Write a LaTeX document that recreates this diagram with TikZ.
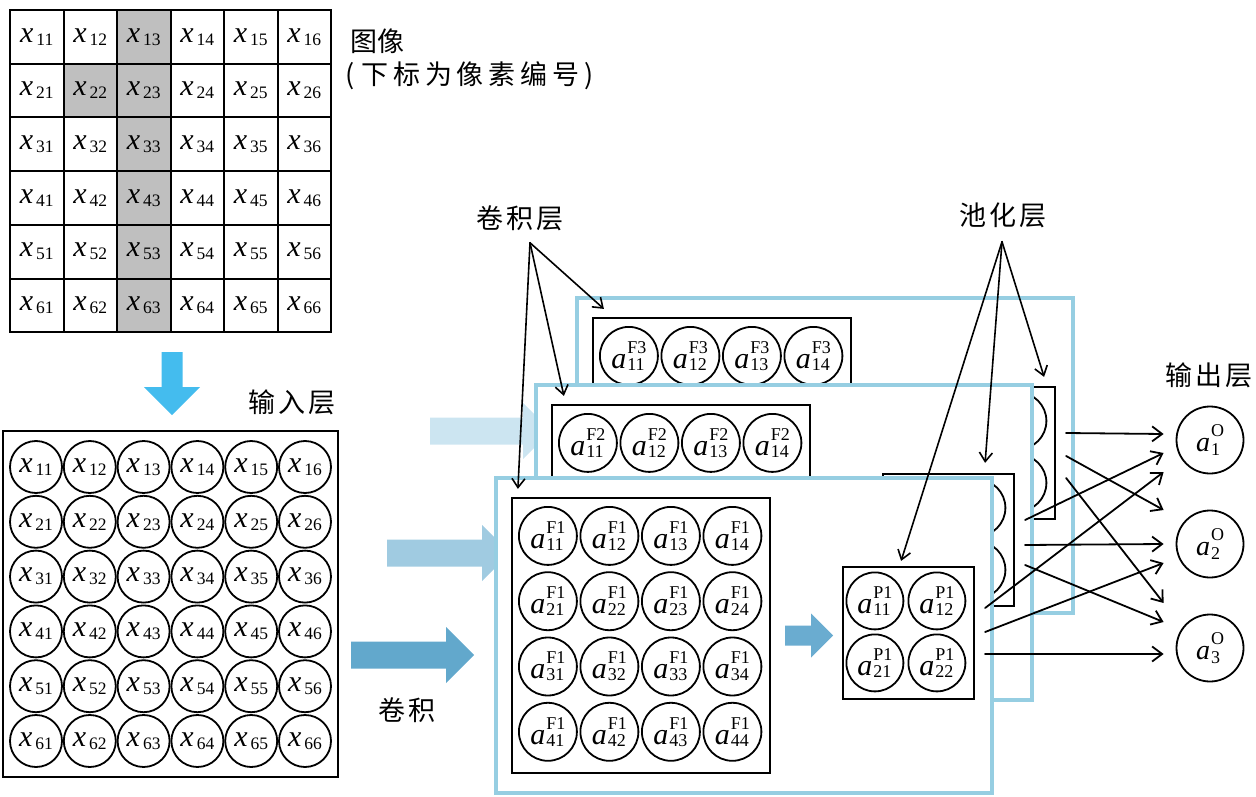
\documentclass[tikz,border=0pt]{standalone}
\usepackage{fontspec}
\setmainfont{Liberation Serif}
\newfontfamily\cjk{Noto Sans CJK SC}
\usetikzlibrary{arrows.meta,calc}

% Labels of pixels and neurons
\newcommand\pix[1]{\textit{x}\kern3pt\lower3pt\hbox{\fontsize{17.5}{17.5}\selectfont#1}}
\newcommand\neuron[3][2]{\textit{a}\kern1pt\lower#1pt\vbox{\fontsize{18}{18}\selectfont
  \baselineskip=\dimexpr15pt+#1pt\relax\hbox{#2}\hbox{#3}}}

\begin{document}
\begin{tikzpicture}
[x=1pt,y=-1pt,line cap=round,
% Styles
pixel/.style={draw,line width=2pt,minimum width=53.5pt,minimum height=53.7pt,
  inner sep=0pt,font=\fontsize{30}{30}\selectfont},
neuron/.style={circle,draw,line width=1.8pt,inner sep=0pt,font=\fontsize{30}{30}\selectfont},
input neuron/.style={neuron,minimum size=52pt},
map neuron/.style={neuron,minimum size=58pt},
pool neuron/.style={neuron,minimum size=57pt},
output neuron/.style={neuron,minimum size=67pt,font=\fontsize{28}{28}\selectfont},
layer box/.style={draw,line width=2.2pt,fill=white,inner sep=0pt},
map frame/.style={draw=framecolor,line width=3.5pt,fill=white,inner sep=0pt,
  minimum width=496pt,minimum height=315pt},
caption/.style={font=\cjk\fontsize{27}{27}\selectfont\addfontfeature{LetterSpace=11},inner sep=0pt},
pointer/.style={line width=1.6pt,-{Straight Barb[length=9pt,width=13pt]}},
link/.style={line width=1.8pt,-{Straight Barb[length=10pt,width=15pt]}}]
% Colors
\definecolor{framecolor}{RGB}{150,206,226}
\definecolor{lightflow}{RGB}{204,229,241}
\definecolor{midflow}{RGB}{160,203,225}
\definecolor{darkflow}{RGB}{98,168,204}
\definecolor{downflow}{RGB}{68,188,238}
\definecolor{poolflow}{RGB}{106,172,208}
\colorlet{pixelgray}{black!25}

\useasboundingbox (0,0) rectangle (1256,797);

% The image
\foreach \r in {1,...,6}
\foreach \c in {1,...,6}
{
\ifnum\c=3 \def\tone{pixelgray}\else\def\tone{white}\fi
\ifnum\r\c=22 \def\tone{pixelgray}\fi
\node[pixel,fill=\tone] (img\r\c) at ({10+53.5*(\c-0.5)},{10+53.7*(\r-0.5)}) {\pix{\r\c}};
}
\node[caption,anchor=west,font=\cjk\fontsize{27}{27}\selectfont] (imgcap) at (350,41) {图像};
\node[caption,anchor=west,font=\cjk\fontsize{27}{27}\selectfont\addfontfeature{LetterSpace=18}]
  (idxcap) at (345,76) {(\hspace{7pt}下标为像素编号\hspace{5pt})};

% Input layer
\fill[downflow] (161.5,352) -- (182.5,352) -- (182.5,387) -- (200,387) -- (172,415)
  -- (144,387) -- (161.5,387) -- cycle;
\node[caption] (incap) at (292,402) {输入层};
\node[layer box,minimum width=335pt,minimum height=346pt] (input) at (170.5,604) {};
\foreach \r in {1,...,6}
\foreach \c in {1,...,6}
\node[input neuron] (x\r\c) at ({36+53.8*(\c-1)},{467+54.8*(\r-1)}) {\pix{\r\c}};

% Convolution arrows
\foreach \tone/\x/\y/\len in {lightflow/430/431/121,midflow/387/553/123,darkflow/351/655/123}
\fill[\tone] (\x,\y-13.5) -- ++(\len-28,0) -- ++(0,-14.5) -- ++(28,28)
  -- ++(-28,28) -- ++(0,-14.5) -- ++(-\len+28,0) -- cycle;
\node[caption] (convcap) at (407,710) {卷积};

% Feature maps, from the back to the front (hidden units left blank)
\foreach \k/\fx/\fy in {3/577/298,2/536/385,1/496/478}
{
\node[map frame] (frame\k) at (\fx+248,\fy+157.5) {};
\node[layer box,minimum width=258pt,minimum height=275pt] (conv\k) at (\fx+145,\fy+157.5) {};
\foreach \r in {1,...,4}
\foreach \c in {1,...,4}
\node[map neuron] (f\k\r\c) at ($(conv\k.north west)+({37+61.5*(\c-1)},{39+65.3*(\r-1)})$)
  {\ifnum\numexpr(\k-1)*(\r-1)\relax=0 \neuron{F\k}{\r\c}\fi};
\fill[poolflow] ($(conv\k.east)+(14,-10)$) -- ++(26,0) -- ++(0,-12) -- ++(22,22)
  -- ++(-22,22) -- ++(0,-12) -- ++(-26,0) -- cycle;
\node[layer box,minimum width=131pt,minimum height=132pt] (pool\k) at (\fx+412.5,\fy+155) {};
\foreach \r in {1,2}
\foreach \c in {1,2}
\node[pool neuron] (p\k\r\c) at ($(pool\k.north west)+({33+62*(\c-1)},{35+62*(\r-1)})$)
  {\ifnum\k=1 \neuron{P\k}{\r\c}\fi};
}

% Output layer
\node[caption] (outlabel) at (1209,375) {输出层};
\foreach \i/\y in {1/440,2/544,3/648}
\node[output neuron] (out\i) at (1210,\y) {\neuron[4]{O}{\i}};
\foreach \k/\dy/\i/\ey in {3/-20/1/-6,3/3/2/-34,3/25/3/-45,2/-20/1/13,2/5/2/0,
  2/25/3/-26,1/-25/1/32,1/-1/2/19,1/21/3/6}
\draw[link] ($(pool\k.east)+(10,\dy)$) -- ($(out\i.west)+(-12,\ey)$);

% Labels of the hidden layers
\node[caption] (convlabel) at (520,218) {卷积层};
\node[caption] (poollabel) at (1003,215) {池化层};
\coordinate (convroot) at ($(convlabel.south)+(10,12)$);
\coordinate (poolroot) at ($(poollabel.south)+(-1,14)$);
\foreach \k/\dx in {3/12,2/13,1/7}
\draw[pointer] (convroot) -- ($(conv\k.north west)+(\dx,-8)$);
\foreach \k/\dx/\dy in {3/-12/-9,2/-30/-10,1/-74/-5}
\draw[pointer] (poolroot) -- ($(pool\k.north east)+(\dx,\dy)$);
\end{tikzpicture}
\end{document}
